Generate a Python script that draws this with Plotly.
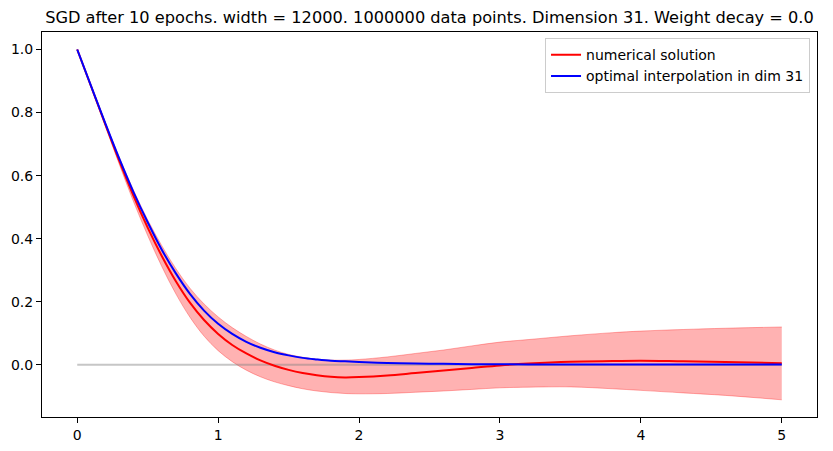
import plotly.graph_objects as go

x_vals = [0.0, 0.1, 0.2, 0.3, 0.4, 0.5, 0.6, 0.7, 0.8, 0.9, 1.0, 1.1, 1.2, 1.3, 1.4, 1.5,
          1.6, 1.7, 1.8, 1.9, 2.0, 2.2, 2.4, 2.6, 2.8, 3.0, 3.2, 3.5, 3.8, 4.0, 4.3, 4.6, 5.0]
numerical = [1.0, 0.881, 0.762, 0.645, 0.535, 0.435, 0.345, 0.265, 0.197, 0.142, 0.098, 0.063, 0.036,
             0.014, -0.003, -0.016, -0.026, -0.033, -0.038, -0.04, -0.039, -0.034, -0.026,
             -0.018, -0.01, -0.002, 0.004, 0.01, 0.012, 0.013, 0.011, 0.009, 0.005]
upper = [1.0, 0.884, 0.768, 0.656, 0.553, 0.46, 0.378, 0.305, 0.243, 0.193, 0.152, 0.118, 0.09,
         0.066, 0.047, 0.033, 0.024, 0.018, 0.015, 0.015, 0.017, 0.025, 0.036, 0.047, 0.06,
         0.072, 0.08, 0.092, 0.102, 0.107, 0.112, 0.116, 0.12]
lower = [1.0, 0.878, 0.756, 0.634, 0.517, 0.41, 0.312, 0.225, 0.151, 0.091, 0.045, 0.01, -0.017,
         -0.038, -0.054, -0.066, -0.076, -0.083, -0.088, -0.091, -0.092, -0.091, -0.087,
         -0.083, -0.078, -0.073, -0.071, -0.07, -0.076, -0.081, -0.089, -0.097, -0.111]
optimal = [1.0, 0.882, 0.765, 0.652, 0.547, 0.452, 0.365, 0.29, 0.225, 0.172, 0.13, 0.098, 0.073,
           0.054, 0.04, 0.03, 0.022, 0.017, 0.013, 0.011, 0.009, 0.006, 0.004, 0.003, 0.002,
           0.002, 0.001, 0.001, 0.001, 0.001, 0.001, 0.001, 0.001]
baseline_x = [0.0, 5.0]
baseline_y = [0.0, 0.0]

title_text = "SGD after 10 epochs. width = 12000. 1000000 data points. Dimension 31. Weight decay = 0.0"

W, H = 825, 443
L, T, PW, PH = 34, 24, 775, 385

fig = go.Figure()
fig.add_trace(go.Scatter(x=x_vals, y=lower, mode="lines", line=dict(color="rgba(255,0,0,0.3)", width=1, shape="spline"),
                         showlegend=False, hoverinfo="skip"))
fig.add_trace(go.Scatter(x=x_vals, y=upper, mode="lines", line=dict(color="rgba(255,0,0,0.3)", width=1, shape="spline"),
                         fill="tonexty", fillcolor="rgba(255,0,0,0.3)", showlegend=False, hoverinfo="skip"))
fig.add_trace(go.Scatter(x=baseline_x, y=baseline_y, mode="lines", line=dict(color="rgba(128,128,128,0.45)", width=2),
                         showlegend=False))
fig.add_trace(go.Scatter(x=x_vals, y=numerical, mode="lines", name="numerical solution",
                         line=dict(color="red", width=2, shape="spline")))
fig.add_trace(go.Scatter(x=x_vals, y=optimal, mode="lines", name="optimal interpolation in dim 31",
                         line=dict(color="blue", width=2, shape="spline")))

axis_common = dict(showline=True, linecolor="black", linewidth=1, mirror=True, ticks="outside",
                   ticklen=5, tickwidth=1, tickcolor="black", showgrid=False, zeroline=False,
                   automargin=False,
                   tickfont=dict(family="DejaVu Sans", size=14, color="black"))

fig.update_layout(
    width=W, height=H,
    margin=dict(l=L, r=W - L - PW, t=T, b=H - T - PH, autoexpand=False),
    paper_bgcolor="white", plot_bgcolor="white",
    title=dict(text=title_text, x=(L + PW / 2) / W, xanchor="center", y=1 - 9 / H, yanchor="middle",
               font=dict(family="DejaVu Sans", size=16.2, color="black")),
    xaxis=dict(range=[-0.25, 5.25], tickvals=[0, 1, 2, 3, 4, 5], **axis_common),
    yaxis=dict(range=[-0.1655, 1.0555], tickvals=[0.0, 0.2, 0.4, 0.6, 0.8, 1.0],
               tickformat=".1f", **axis_common),
    legend=dict(x=0.991, y=0.984, xanchor="right", yanchor="top", bgcolor="rgba(255,255,255,0.8)",
                bordercolor="#cccccc", borderwidth=1, font=dict(family="DejaVu Sans", size=14, color="black"),
                tracegroupgap=0, itemwidth=30, traceorder="normal"),
    showlegend=True,
)

fig.write_html("out.html")
